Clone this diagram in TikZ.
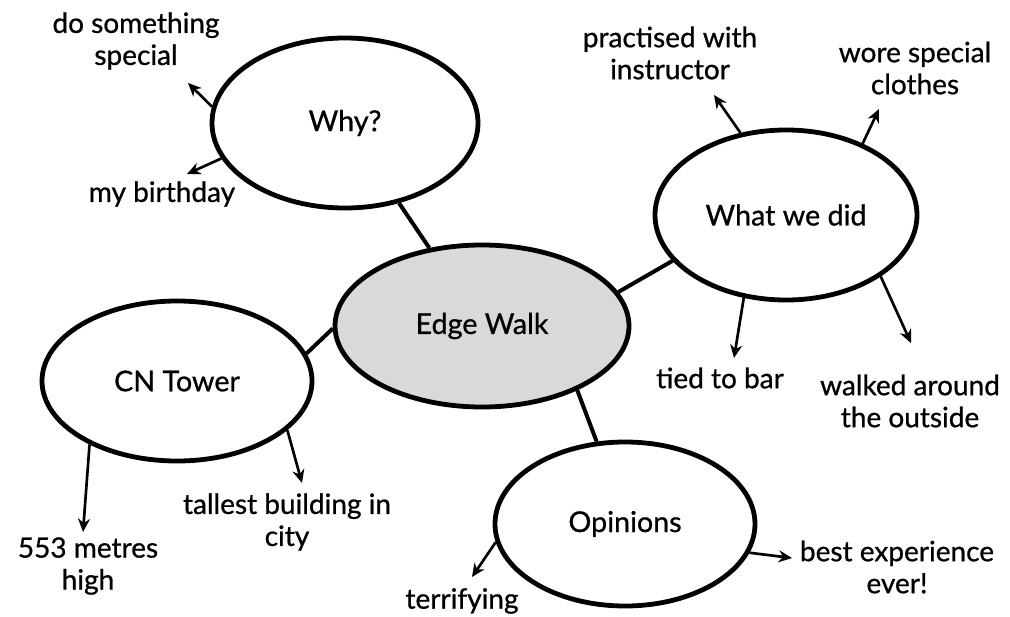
\documentclass[tikz,border=0pt]{standalone}
\usepackage{fontspec}
\setmainfont{Lato}[FakeBold=0.8]
\usetikzlibrary{shapes.geometric,arrows.meta}
\begin{document}
\begin{tikzpicture}[x=0.75pt,y=-0.75pt,
  bubble/.style={ellipse,draw=black,line width=3.6pt,fill=white,inner sep=0pt,font=\fontsize{21.5}{24}\selectfont},
  link/.style={line width=3pt},
  arr/.style={line width=2pt,-{Stealth[length=10pt,width=9pt]}},
  lbl/.style={align=center,font=\fontsize{21}{24}\selectfont,inner sep=0pt}]
\useasboundingbox (0,0) rectangle (1010,617);
% nodes
\node[bubble,minimum width=266*0.75pt,minimum height=170*0.75pt] (why) at (345,123) {Why?};
\node[bubble,fill=black!15,minimum width=294*0.75pt,minimum height=162*0.75pt] (edge) at (482,326) {Edge Walk};
\node[bubble,minimum width=262*0.75pt,minimum height=170*0.75pt] (what) at (786,215) {What we did};
\node[bubble,minimum width=270*0.75pt,minimum height=160*0.75pt] (cn) at (177,381) {CN Tower};
\node[bubble,minimum width=260*0.75pt,minimum height=164*0.75pt] (op) at (625,524) {Opinions};
% connectors
\draw[link] (why) -- (edge);
\draw[link] (edge.14) -- (what.202);
\draw[link] (edge.181) -- (cn.12);
\draw[link] (edge.-34) -- (op.109);
% labels
\node[lbl] (l1) at (136,41) {do something\\special};
\node[lbl] (l2) at (162,194) {my birthday};
\node[lbl] (l3) at (670,53) {practised with\\instructor};
\node[lbl] (l4) at (915,68) {wore special\\clothes};
\node[lbl] (l5) at (720,378) {tied to bar};
\node[lbl] (l6) at (910,401) {walked around\\the outside};
\node[lbl] (l7) at (88,566) {553 metres\\high};
\node[lbl] (l8) at (287,522) {tallest building in\\city};
\node[lbl] (l9) at (462,601) {terrifying};
\node[lbl] (l10) at (897,567) {best experience\\ever!};
% arrow ends
\coordinate (t1) at (188,83);
\coordinate (t2) at (187,174);
\coordinate (t3) at (714,95);
\coordinate (t4) at (879,109);
\coordinate (t5) at (734,358);
\coordinate (t6) at (911,343);
\coordinate (t7) at (83,532);
\coordinate (t8) at (302,483);
\coordinate (t9) at (472,577);
\coordinate (t10) at (792,558);
\draw[arr] (why.173) -- (t1);
\draw[arr] (why.196) -- (t2);
\draw[arr] (what.119) -- (t3);
\draw[arr] (what.43) -- (t4);
\draw[arr] (what.243) -- (t5);
\draw[arr] (what.-33) -- (t6);
\draw[arr] (cn.216) -- (t7);
\draw[arr] (cn.-24) -- (t8);
\draw[arr] (op.188) -- (t9);
\draw[arr] (op.-13) -- (t10);
\end{tikzpicture}
\end{document}
